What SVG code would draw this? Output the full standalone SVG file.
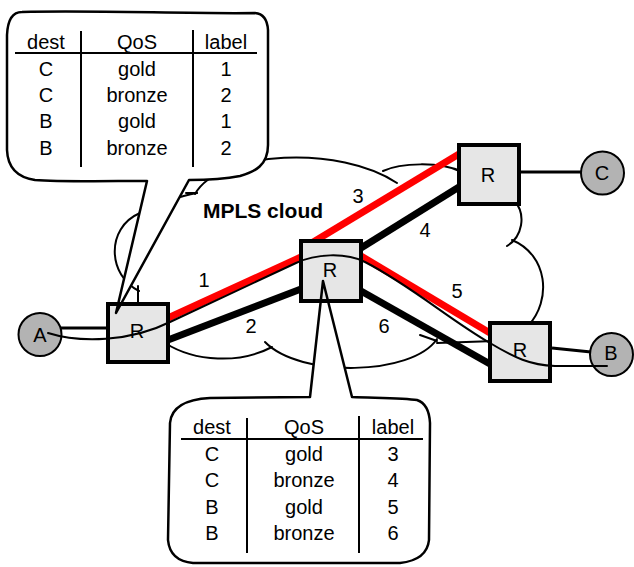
<svg xmlns="http://www.w3.org/2000/svg" width="634" height="567" viewBox="0 0 634 567">
  <style>
    text { font-family: "Liberation Sans", Arial, Helvetica, sans-serif; font-size: 20px; fill: #000; text-anchor: middle; }
    .bold { font-weight: bold; font-size: 21px; }
    .cloud { fill: none; stroke: #000; stroke-width: 2; stroke-linecap: round; }
    .router rect { fill: #e6e6e6; stroke: #000; stroke-width: 4; }
    .host circle { fill: #b3b3b3; stroke: #000; stroke-width: 2; }
    .link { stroke: #000; stroke-width: 3; fill: none; }
    .lsp-red { stroke: #ff0000; stroke-width: 7; }
    .lsp-black { stroke: #000; stroke-width: 7; }
    .flow { fill: none; stroke: #000; stroke-width: 2; stroke-linecap: round; }
    .bubble-fill { fill: #fff; stroke: none; }
    .bubble-edge { fill: none; stroke: #000; stroke-width: 2.5; stroke-linejoin: round; }
    .rule { stroke: #000; stroke-width: 2; }
  </style>
  <defs>
    <path id="bubble-top" d="M22,12 C90,10 190,14 255,13 Q267,14 268,30 L268,145 C268,165 255,172 240,176 C225,179 210,180 189,180 L116,313 L147,181 C110,181 60,182 35,180 Q8,176 7,150 L7,35 Q8,12 22,12 Z"/>
    <path id="bubble-bottom" d="M210,398 L310,397 L323,281 L352,397 C380,398 405,398 417,400 Q429,404 430,423 L429,540 Q427,560 400,563 L193,563 Q170,561 168,540 L170,423 Q172,400 210,398 Z"/>
  </defs>

  <!-- MPLS cloud outline -->
  <g id="cloud">
    <path class="cloud" d="M139,291 C108,276 105,228 140,213 C158,205 178,196 197,193"/>
    <path class="cloud" d="M186,193 L197,193"/>
    <path class="cloud" d="M195,194 C220,150 340,145 397,183"/>
    <path class="cloud" d="M383,171 C400,163 440,161 462,172"/>
    <path class="cloud" d="M514,200 C527,215 522,237 507,246"/>
    <path class="cloud" d="M512,240 C548,255 552,300 528,326"/>
    <path class="cloud" d="M495,341 L437,343 M420,335 L437,341"/>
    <path class="cloud" d="M437,339 C412,376 300,378 265,342"/>
    <path class="cloud" d="M272,347 C240,364 195,362 165,343"/>
    <path class="cloud" d="M138,286 L138,303"/>
  </g>

  <!-- callout backgrounds -->
  <use href="#bubble-top" class="bubble-fill"/>
  <use href="#bubble-bottom" class="bubble-fill"/>

  <g id="connectors">
    <line class="lsp-red" x1="168" y1="318" x2="301" y2="257"/>
    <line class="lsp-black" x1="168" y1="340" x2="301" y2="289"/>
    <line class="lsp-red" x1="305" y1="247" x2="459" y2="154"/>
    <line class="lsp-black" x1="361" y1="248" x2="459" y2="187"/>
    <line class="lsp-red" x1="361" y1="256" x2="490" y2="333"/>
    <line class="lsp-black" x1="361" y1="291" x2="490" y2="364"/>
    <line class="link" x1="60" y1="328" x2="106" y2="328"/>
    <line class="link" x1="521" y1="172" x2="581" y2="172"/>
    <line class="link" x1="552" y1="348" x2="591" y2="352"/>
  </g>

  <g id="router-a" class="router">
    <rect x="108" y="304" width="60" height="58"/>
    <text x="137" y="338">R</text>
  </g>
  <g id="router-core" class="router">
    <rect x="301" y="241" width="60" height="60"/>
    <text x="330" y="277">R</text>
  </g>
  <g id="router-c" class="router">
    <rect x="459" y="145" width="60" height="59"/>
    <text x="488" y="182">R</text>
  </g>
  <g id="router-b" class="router">
    <rect x="490" y="323" width="60" height="58"/>
    <text x="520" y="357">R</text>
  </g>

  <g id="host-a" class="host">
    <circle cx="40" cy="334.5" r="21.5"/>
    <text x="40" y="342">A</text>
  </g>
  <g id="host-c" class="host">
    <circle cx="602.5" cy="173" r="21.5"/>
    <text x="602" y="180">C</text>
  </g>
  <g id="host-b" class="host">
    <circle cx="611.5" cy="354.5" r="21.5"/>
    <text x="611" y="360">B</text>
  </g>

  <!-- label table at the ingress router -->
  <g id="table-ingress">
    <use href="#bubble-top" class="bubble-edge"/>
    <line class="rule" x1="15" y1="53" x2="257" y2="53"/>
    <line class="rule" x1="81" y1="31" x2="81" y2="167"/>
    <line class="rule" x1="193" y1="30" x2="193" y2="167"/>
    <text x="46" y="49">dest</text><text x="137" y="49">QoS</text><text x="226" y="49">label</text>
    <text x="46" y="76">C</text><text x="137" y="76">gold</text><text x="226" y="76">1</text>
    <text x="46" y="102">C</text><text x="137" y="102">bronze</text><text x="226" y="102">2</text>
    <text x="46" y="128">B</text><text x="137" y="128">gold</text><text x="226" y="128">1</text>
    <text x="46" y="155">B</text><text x="137" y="155">bronze</text><text x="226" y="155">2</text>
  </g>

  <!-- label table at the core router -->
  <g id="table-core">
    <use href="#bubble-bottom" class="bubble-edge"/>
    <line class="rule" x1="181" y1="439" x2="423" y2="439"/>
    <line class="rule" x1="247" y1="418" x2="247" y2="553"/>
    <line class="rule" x1="359" y1="416" x2="359" y2="553"/>
    <text x="212" y="434">dest</text><text x="304" y="434">QoS</text><text x="393" y="434">label</text>
    <text x="212" y="461">C</text><text x="304" y="461">gold</text><text x="393" y="461">3</text>
    <text x="212" y="487">C</text><text x="304" y="487">bronze</text><text x="393" y="487">4</text>
    <text x="212" y="514">B</text><text x="304" y="514">gold</text><text x="393" y="514">5</text>
    <text x="212" y="540">B</text><text x="304" y="540">bronze</text><text x="393" y="540">6</text>
  </g>

  <!-- traffic path from A to B -->
  <g id="flow">
    <path class="flow" d="M48,333 C80,343 130,342 170,322 L296,263 C315,254 345,252 365,262 C410,285 450,320 490,343 C515,358 530,365 555,366 L607,366"/>
  </g>

  <g id="link-labels">
    <text x="204" y="287">1</text>
    <text x="251" y="333">2</text>
    <text x="358" y="203">3</text>
    <text x="425" y="237">4</text>
    <text x="457" y="298">5</text>
    <text x="384" y="333">6</text>
  </g>

  <g id="cloud-label">
    <text class="bold" x="263" y="218">MPLS cloud</text>
  </g>
</svg>
